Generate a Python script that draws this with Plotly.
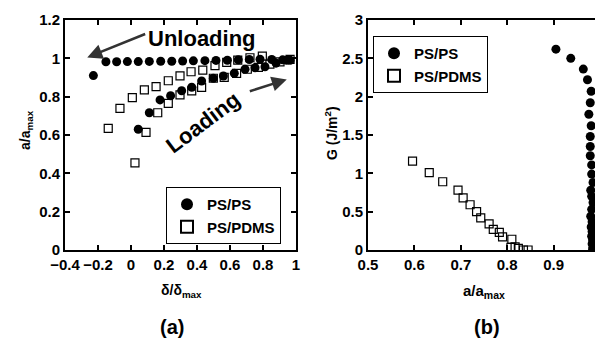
import plotly.graph_objects as go

# ---------- Panel (a) data ----------
unload_ps_x = [-0.228, -0.152, -0.087, -0.022, 0.044, 0.111, 0.18, 0.247, 0.313, 0.378, 0.448, 0.515, 0.584, 0.65, 0.717, 0.782, 0.853, 0.919, 0.964]
unload_ps_y = [0.91, 0.982, 0.982, 0.983, 0.983, 0.984, 0.985, 0.985, 0.986, 0.987, 0.988, 0.989, 0.99, 0.992, 0.994, 0.995, 0.994, 0.992, 0.99]
load_ps_x = [0.044, 0.111, 0.176, 0.24, 0.307, 0.368, 0.428, 0.499, 0.56, 0.626, 0.691, 0.752, 0.812, 0.879, 0.944]
load_ps_y = [0.63, 0.716, 0.783, 0.805, 0.831, 0.849, 0.882, 0.896, 0.908, 0.922, 0.943, 0.951, 0.956, 0.975, 0.99]
unload_pdms_x = [-0.138, -0.067, 0.008, 0.081, 0.152, 0.226, 0.297, 0.364, 0.435, 0.509, 0.58, 0.647, 0.721, 0.796]
unload_pdms_y = [0.635, 0.739, 0.795, 0.835, 0.852, 0.883, 0.909, 0.93, 0.939, 0.962, 0.979, 0.991, 1.003, 1.012]
load_pdms_x = [0.024, 0.091, 0.162, 0.226, 0.297, 0.368, 0.428, 0.499, 0.565, 0.64, 0.705, 0.772, 0.842, 0.903, 0.964]
load_pdms_y = [0.455, 0.614, 0.716, 0.765, 0.809, 0.83, 0.849, 0.896, 0.901, 0.922, 0.943, 0.953, 0.97, 0.982, 0.995]

# ---------- Panel (b) data ----------
g_ps_x = [0.905, 0.937, 0.964, 0.973, 0.981, 0.979, 0.976, 0.981, 0.979, 0.979, 0.979, 0.982, 0.982, 0.985, 0.98, 0.982, 0.985, 0.982, 0.98, 0.983, 0.981, 0.983, 0.982, 0.984, 0.983, 0.985, 0.984, 0.986, 0.986]
g_ps_y = [2.62, 2.5, 2.36, 2.22, 2.07, 1.92, 1.77, 1.62, 1.48, 1.35, 1.23, 1.11, 0.99, 0.88, 0.78, 0.70, 0.62, 0.53, 0.44, 0.37, 0.30, 0.24, 0.18, 0.13, 0.08, 0.035, 0.01, 0.0, 0.0]
g_pdms_x = [0.596, 0.632, 0.661, 0.694, 0.705, 0.72, 0.734, 0.743, 0.761, 0.77, 0.783, 0.79, 0.81, 0.808, 0.817, 0.824, 0.835, 0.845]
g_pdms_y = [1.16, 1.01, 0.89, 0.78, 0.68, 0.59, 0.50, 0.42, 0.34, 0.27, 0.23, 0.17, 0.14, 0.035, 0.04, 0.02, 0.0, 0.0]

xa_ticks = [-0.4, -0.2, 0, 0.2, 0.4, 0.6, 0.8, 1]
xa_text = ["\u22120.4", "\u22120.2", "0", "0.2", "0.4", "0.6", "0.8", "1"]
ya_ticks = [0, 0.2, 0.4, 0.6, 0.8, 1, 1.2]
ya_text = ["0", "0.2", "0.4", "0.6", "0.8", "1", "1.2"]
xb_ticks = [0.5, 0.6, 0.7, 0.8, 0.9, 1]
xb_text = ["0.5", "0.6", "0.7", "0.8", "0.9", "1"]
yb_ticks = [0, 0.5, 1, 1.5, 2, 2.5, 3]
yb_text = ["0", "0.5", "1", "1.5", "2", "2.5", "3"]

# page offset of the plot div (default body margin)
OFF = 8
W, H = 603 - OFF, 338 - OFF


def px(x):  # page pixel -> paper fraction
    return (x - OFF) / W


def py(y):
    return (338 - y) / H


FONT = "Liberation Sans, Arial, sans-serif"
circ = dict(symbol="circle", size=9, color="black", line=dict(width=0))
sq = dict(symbol="square-open", size=8, color="black", line=dict(width=1.2))

fig = go.Figure()
fig.add_trace(go.Scatter(x=unload_ps_x + load_ps_x, y=unload_ps_y + load_ps_y, mode="markers",
                         marker=circ, name="PS/PS", xaxis="x", yaxis="y", legend="legend"))
fig.add_trace(go.Scatter(x=unload_pdms_x + load_pdms_x, y=unload_pdms_y + load_pdms_y, mode="markers",
                         marker=sq, name="PS/PDMS", xaxis="x", yaxis="y", legend="legend"))
fig.add_trace(go.Scatter(x=g_ps_x, y=g_ps_y, mode="markers", marker=circ, name="PS/PS",
                         xaxis="x2", yaxis="y2", legend="legend2"))
fig.add_trace(go.Scatter(x=g_pdms_x, y=g_pdms_y, mode="markers", marker=sq, name="PS/PDMS",
                         xaxis="x2", yaxis="y2", legend="legend2"))

ax_common = dict(showline=True, linewidth=2, linecolor="black", mirror="ticks", ticks="inside",
                 ticklen=5, tickwidth=2, tickcolor="black", showgrid=False, zeroline=False,
                 automargin=False,
                 tickfont=dict(family=FONT, size=15, color="black", weight="bold"))

ydom = [py(250), py(20)]
legfont = dict(family=FONT, size=15, color="black", weight="bold")
fig.update_layout(
    template="none",
    width=W, height=H, margin=dict(l=0, r=0, t=0, b=0, autoexpand=False),
    paper_bgcolor="white", plot_bgcolor="white",
    font=dict(family=FONT, color="black"),
    showlegend=True,
    xaxis=dict(domain=[px(65), px(296)], range=[-0.4, 1], tickvals=xa_ticks, ticktext=xa_text,
               anchor="y", **ax_common),
    yaxis=dict(domain=ydom, range=[0, 1.2], tickvals=ya_ticks, ticktext=ya_text, anchor="x", **ax_common),
    xaxis2=dict(domain=[px(368), px(600)], range=[0.5, 1], tickvals=xb_ticks, ticktext=xb_text,
                anchor="y2", **ax_common),
    yaxis2=dict(domain=ydom, range=[0, 3], tickvals=yb_ticks, ticktext=yb_text, anchor="x2", **ax_common),
    legend=dict(x=px(166), y=py(187), xanchor="left", yanchor="top",
                bgcolor="white", bordercolor="black", borderwidth=1, font=legfont,
                tracegroupgap=0, itemsizing="constant"),
    legend2=dict(x=px(373), y=py(36), xanchor="left", yanchor="top",
                 bgcolor="white", bordercolor="black", borderwidth=1, font=legfont,
                 tracegroupgap=0, itemsizing="constant"),
)

bold = dict(family=FONT, color="black", weight="bold")
common = dict(xref="paper", yref="paper", showarrow=False, xanchor="center", yanchor="middle")
ann = [
    dict(text="a/a<sub>max</sub>", x=px(26), y=py(130), textangle=-90, font=dict(size=14, **bold), **common),
    dict(text="\u03b4/\u03b4<sub>max</sub>", x=px(181), y=py(291), font=dict(size=14, **bold), **common),
    dict(text="G (J/m<sup>2</sup>)", x=px(331), y=py(133), textangle=-90, font=dict(size=14, **bold), **common),
    dict(text="a/a<sub>max</sub>", x=px(484), y=py(291), font=dict(size=15, **bold), **common),
    dict(text="(a)", x=px(172), y=py(327), font=dict(size=20, **bold), **common),
    dict(text="(b)", x=px(487), y=py(327), font=dict(size=20, **bold), **common),
    dict(text="Unloading", x=0.43, y=1.106, xref="x", yref="y", showarrow=False,
         font=dict(size=22, **bold)),
    dict(text="Loading", x=0.436, y=0.667, xref="x", yref="y", showarrow=False, textangle=-37,
         font=dict(size=22, **bold)),
    dict(x=-0.265, y=1.005, ax=0.095, ay=1.13, xref="x", yref="y", axref="x", ayref="y", text="",
         showarrow=True, arrowhead=2, arrowsize=1.2, arrowwidth=2.5, arrowcolor="#333333"),
    dict(x=0.944, y=0.89, ax=0.711, ay=0.826, xref="x", yref="y", axref="x", ayref="y", text="",
         showarrow=True, arrowhead=2, arrowsize=1.2, arrowwidth=2.5, arrowcolor="#333333"),
]
fig.update_layout(annotations=ann)
fig.write_html("out.html")
